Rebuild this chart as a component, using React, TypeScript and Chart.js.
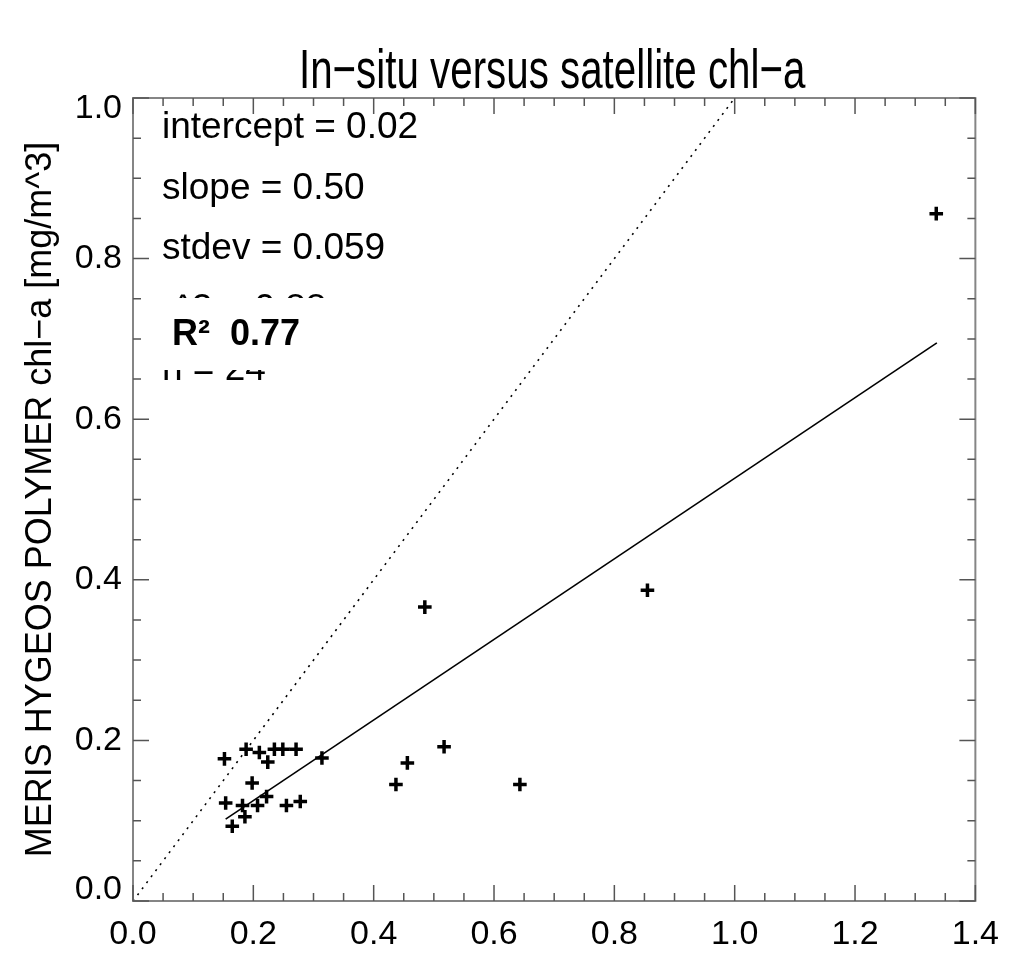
import { useEffect, useRef } from 'react';
import { Chart, registerables } from 'chart.js';

Chart.register(...registerables);

const TITLE = 'In−situ versus satellite chl−a';
const Y_TITLE = 'MERIS HYGEOS POLYMER chl−a [mg/m^3]';

// In-situ chl-a (x) and satellite chl-a (y) match-ups
const insituChl = [
  0.152, 0.188, 0.210, 0.224, 0.235, 0.249, 0.271, 0.314,
  0.198, 0.154, 0.182, 0.186, 0.165, 0.207, 0.222, 0.255,
  0.278, 0.437, 0.456, 0.517, 0.485, 0.643, 0.855, 1.335,
];
const satelliteChl = [
  0.177, 0.189, 0.185, 0.173, 0.189, 0.189, 0.189, 0.178,
  0.147, 0.122, 0.119, 0.105, 0.093, 0.119, 0.130, 0.119,
  0.124, 0.145, 0.172, 0.192, 0.366, 0.145, 0.387, 0.856,
];

// Regression line end points and 1:1 line
const fitX = [0.154, 1.336];
const fitY = [0.102, 0.695];
const oneToOneX = [0, 1];
const oneToOneY = [0, 1];

// Axis ranges / tick steps
const X_MIN = 0;
const X_MAX = 1.4;
const Y_MIN = 0;
const Y_MAX = 1.0;
const MAJOR_STEP = 0.2;
const MINOR_DIVISIONS = 4;

const statLines = ['intercept = 0.02', 'slope = 0.50', 'stdev = 0.059', 'r^2 = 0.88', 'n = 24'];
const rSquaredLabel = 'R²  0.77';

const FONT = '"Liberation Sans", Arial, Helvetica, sans-serif';

const titlePlugin = {
  id: 'condensedTitle',
  afterDraw(chart: any) {
    const { ctx, chartArea } = chart;
    ctx.save();
    ctx.fillStyle = '#000';
    ctx.textAlign = 'center';
    ctx.textBaseline = 'alphabetic';
    ctx.font = `56px ${FONT}`;
    const cx = (chartArea.left + chartArea.right) / 2 - 2;
    ctx.translate(cx, chartArea.top - 10);
    ctx.scale(0.72, 1);
    ctx.fillText(TITLE, 0, 0);
    ctx.restore();
  },
};

const statsPlugin = {
  id: 'statsText',
  afterDraw(chart: any) {
    const { ctx, chartArea } = chart;
    ctx.save();
    ctx.fillStyle = '#000';
    ctx.textAlign = 'left';
    ctx.textBaseline = 'alphabetic';
    ctx.font = `37px ${FONT}`;
    const x0 = chartArea.left + 29;
    statLines.forEach((t, i) => {
      ctx.fillText(t, x0, chartArea.top + 40 + i * 60.5);
    });
    // white label box covering part of the statistics
    ctx.fillStyle = '#fff';
    ctx.fillRect(chartArea.left + 25, chartArea.top + 200, 190, 72);
    ctx.fillStyle = '#000';
    ctx.font = `bold 36px ${FONT}`;
    ctx.fillText(rSquaredLabel, chartArea.left + 39, chartArea.top + 247);
    ctx.restore();
  },
};

const framePlugin = {
  id: 'frameTicks',
  afterDraw(chart: any) {
    const { ctx, chartArea } = chart;
    const { left, right, top, bottom } = chartArea;
    const xs = chart.scales.x;
    const ys = chart.scales.y;
    ctx.save();
    ctx.strokeStyle = '#858585';
    ctx.lineWidth = 2;
    ctx.strokeRect(left, top, right - left, bottom - top);

    ctx.strokeStyle = '#555';
    ctx.lineWidth = 1.5;
    const major = 16;
    const minor = 8;
    const drawTicks = (scale: any, horizontal: boolean) => {
      const vals = scale.ticks.map((t: any) => t.value);
      for (let i = 0; i < vals.length; i++) {
        const list: [number, number][] = [[vals[i], major]];
        if (i < vals.length - 1) {
          for (let k = 1; k < MINOR_DIVISIONS; k++) {
            list.push([vals[i] + ((vals[i + 1] - vals[i]) * k) / MINOR_DIVISIONS, minor]);
          }
        }
        list.forEach(([v, len]) => {
          const p = scale.getPixelForValue(v);
          ctx.beginPath();
          if (horizontal) {
            ctx.moveTo(p, bottom);
            ctx.lineTo(p, bottom - len);
            ctx.moveTo(p, top);
            ctx.lineTo(p, top + len);
          } else {
            ctx.moveTo(left, p);
            ctx.lineTo(left + len, p);
            ctx.moveTo(right, p);
            ctx.lineTo(right - len, p);
          }
          ctx.stroke();
        });
      }
    };
    drawTicks(xs, true);
    drawTicks(ys, false);
    ctx.restore();
  },
};

export default function App() {
  const canvasRef = useRef<HTMLCanvasElement | null>(null);

  useEffect(() => {
    const canvas = canvasRef.current;
    if (!canvas) return;
    const points = insituChl.map((x, i) => ({ x, y: satelliteChl[i] }));
    const fit = fitX.map((x, i) => ({ x, y: fitY[i] }));
    const oneToOne = oneToOneX.map((x, i) => ({ x, y: oneToOneY[i] }));

    const chart = new Chart(canvas, {
      type: 'scatter',
      data: {
        datasets: [
          {
            label: 'match-ups',
            data: points,
            pointStyle: 'cross',
            pointRadius: 6.8,
            pointBorderWidth: 3.5,
            borderColor: '#000',
            backgroundColor: '#000',
            showLine: false,
          },
          {
            label: 'fit',
            data: fit,
            showLine: true,
            borderColor: '#000',
            borderWidth: 1.6,
            pointRadius: 0,
            fill: false,
          },
          {
            label: '1:1',
            data: oneToOne,
            showLine: true,
            borderColor: '#000',
            borderWidth: 1.6,
            borderDash: [2, 5.5],
            pointRadius: 0,
            fill: false,
          },
        ],
      },
      options: {
        animation: false,
        responsive: false,
        layout: { padding: { left: 0, right: 34, top: 98, bottom: 0 } },
        plugins: {
          legend: { display: false },
          tooltip: { enabled: false },
          title: { display: false },
        },
        scales: {
          x: {
            type: 'linear',
            position: 'bottom',
            min: X_MIN,
            max: X_MAX,
            grid: { display: false, drawTicks: false },
            border: { display: false },
            ticks: {
              stepSize: MAJOR_STEP,
              color: '#000',
              padding: 13,
              maxRotation: 0,
              autoSkip: false,
              font: { family: FONT, size: 34 },
              callback: (v: any) => Number(v).toFixed(1),
            },
            afterFit: (s: any) => {
              s.height = 53;
            },
          },
          y: {
            type: 'linear',
            position: 'left',
            min: Y_MIN,
            max: Y_MAX,
            grid: { display: false, drawTicks: false },
            border: { display: false },
            title: {
              display: true,
              text: Y_TITLE,
              color: '#000',
              font: { family: FONT, size: 36 },
              padding: { top: 19, bottom: 0 },
            },
            ticks: {
              stepSize: MAJOR_STEP,
              color: '#000',
              padding: 11,
              autoSkip: false,
              font: { family: FONT, size: 34, lineHeight: '22px' },
              callback: (v: any) => {
                const n = Number(v);
                const s = n.toFixed(1);
                if (Math.abs(n - Y_MIN) < 1e-9) return [s, ''];
                if (Math.abs(n - Y_MAX) < 1e-9) return ['', s];
                return s;
              },
            },
            afterFit: (s: any) => {
              s.width = 133;
            },
          },
        },
      },
      plugins: [titlePlugin, statsPlugin, framePlugin],
    } as any);

    return () => chart.destroy();
  }, []);

  return (
    <div style={{ position: 'fixed', left: 0, top: 0, width: 1012, height: 954, background: '#fff' }}>
      <canvas ref={canvasRef} width={1012} height={954} style={{ display: 'block' }} />
    </div>
  );
}
